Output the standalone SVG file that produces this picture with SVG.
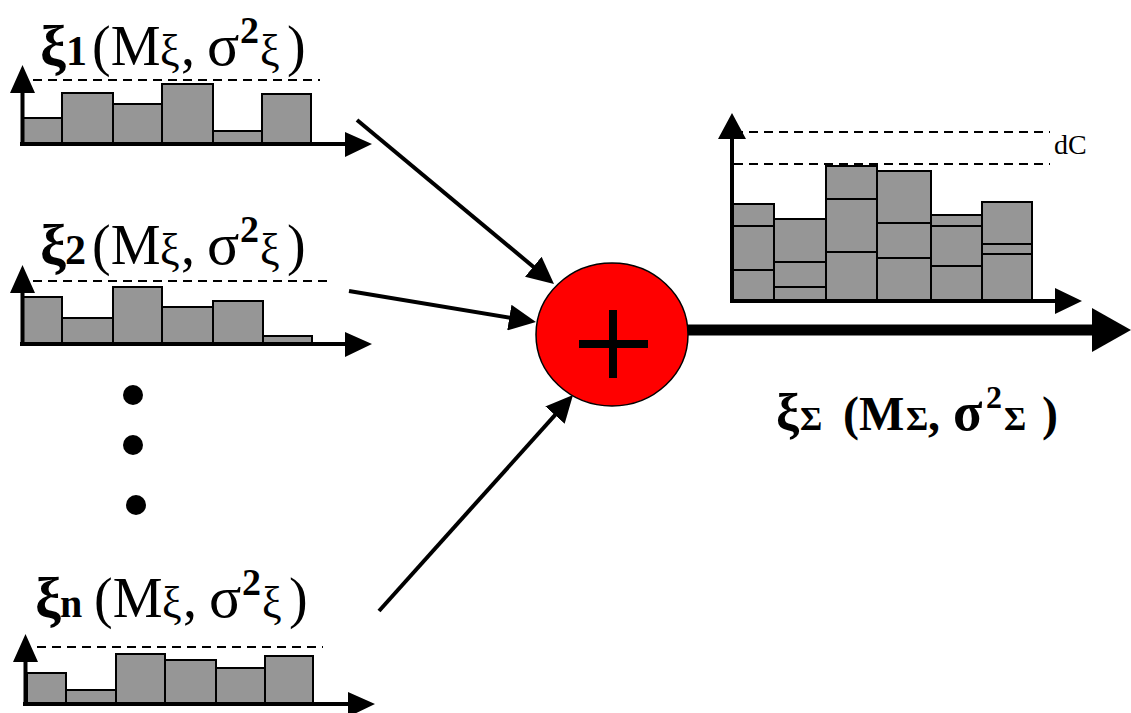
<svg xmlns="http://www.w3.org/2000/svg" width="1131" height="713" viewBox="0 0 1131 713">
<style>
.bar{fill:#969696;stroke:#000;stroke-width:2}
.axis{stroke:#000;stroke-width:4;fill:none}
.head{fill:#000;stroke:none}
.dash{stroke:#000;stroke-width:2;stroke-dasharray:9 6;fill:none}
.sep{stroke:#000;stroke-width:2}
.conn{stroke:#000;stroke-width:4;fill:none}
.lbl{font-family:"Liberation Serif","Times New Roman",serif;fill:#000}
.b{font-weight:bold}
</style>
<defs>
<marker id="ah" markerUnits="userSpaceOnUse" markerWidth="28" markerHeight="26" refX="2" refY="13" orient="auto">
<path d="M0,0 L27,13 L0,26 z" fill="#000"/>
</marker>
</defs>
<rect width="1131" height="713" fill="#fff"/>

<g id="hist1">
<line class="dash" x1="33" y1="80" x2="320" y2="80"/>
<rect class="bar" x="23" y="118" width="39" height="25"/>
<rect class="bar" x="62" y="93" width="51" height="50"/>
<rect class="bar" x="113" y="104" width="49" height="39"/>
<rect class="bar" x="162" y="84" width="51" height="59"/>
<rect class="bar" x="213" y="131" width="49" height="12"/>
<rect class="bar" x="262" y="94" width="49" height="49"/>
<path class="axis" d="M22.5,144 V92 M20,144 H346"/>
<path class="head" d="M10,93 L35,93 L22.5,65 z M345,132 L372,144 L345,157 z"/>
<text class="lbl" y="65" font-size="56"><tspan x="40" class="b" font-size="58">ξ</tspan><tspan x="66" class="b" font-size="42">1</tspan><tspan x="92">(M</tspan><tspan x="160" font-size="44">ξ</tspan><tspan x="181">,</tspan><tspan x="207" font-size="60">σ</tspan><tspan x="240" y="43" class="b" font-size="38">2</tspan><tspan x="260" y="65" font-size="44">ξ</tspan><tspan x="287">)</tspan></text>
</g>

<g id="hist2">
<line class="dash" x1="33" y1="281" x2="330" y2="281"/>
<rect class="bar" x="23" y="297" width="39" height="46"/>
<rect class="bar" x="62" y="318" width="51" height="25"/>
<rect class="bar" x="113" y="287" width="49" height="56"/>
<rect class="bar" x="162" y="307" width="51" height="36"/>
<rect class="bar" x="213" y="301" width="50" height="42"/>
<rect class="bar" x="263" y="336" width="49" height="7"/>
<path class="axis" d="M22.5,344 V292 M20,344 H346"/>
<path class="head" d="M10,293 L35,293 L22.5,265 z M345,332 L372,344 L345,357 z"/>
<text class="lbl" y="264" font-size="56"><tspan x="40" class="b" font-size="58">ξ</tspan><tspan x="65" class="b" font-size="42">2</tspan><tspan x="92">(M</tspan><tspan x="160" font-size="44">ξ</tspan><tspan x="181">,</tspan><tspan x="207" font-size="60">σ</tspan><tspan x="240" y="242" class="b" font-size="38">2</tspan><tspan x="260" y="264" font-size="44">ξ</tspan><tspan x="287">)</tspan></text>
</g>

<g id="dots">
<circle cx="133" cy="395" r="10" fill="#000"/>
<circle cx="133" cy="445" r="10" fill="#000"/>
<circle cx="136" cy="505" r="10" fill="#000"/>
</g>

<g id="histn">
<line class="dash" x1="37" y1="647" x2="323" y2="647"/>
<rect class="bar" x="27" y="673" width="39" height="30"/>
<rect class="bar" x="66" y="690" width="50" height="13"/>
<rect class="bar" x="116" y="654" width="49" height="49"/>
<rect class="bar" x="165" y="660" width="51" height="43"/>
<rect class="bar" x="216" y="668" width="49" height="35"/>
<rect class="bar" x="265" y="656" width="48" height="47"/>
<path class="axis" d="M25.5,704 V661 M23,704 H349"/>
<path class="head" d="M13,662 L38,662 L25.5,634 z M348,692 L375,704 L348,717 z"/>
<text class="lbl" y="617" font-size="56"><tspan x="35" class="b" font-size="58">ξ</tspan><tspan x="60" class="b" font-size="40">n</tspan><tspan x="94">(M</tspan><tspan x="162" font-size="44">ξ</tspan><tspan x="183">,</tspan><tspan x="209" font-size="60">σ</tspan><tspan x="242" y="595" class="b" font-size="38">2</tspan><tspan x="262" y="617" font-size="44">ξ</tspan><tspan x="289">)</tspan></text>
</g>

<g id="sum">
<ellipse cx="612" cy="334.5" rx="76" ry="71.5" fill="#ff0000" stroke="#000" stroke-width="1.5"/>
<path d="M613,310 V378 M579,344 H648" stroke="#000" stroke-width="8" fill="none"/>
</g>

<g id="result">
<line class="dash" x1="734" y1="132" x2="1050" y2="132"/>
<line class="dash" x1="734" y1="164" x2="1050" y2="164"/>
<text class="lbl" x="1054" y="154" font-size="28">dC</text>
<rect class="bar" x="733" y="204" width="41" height="96"/>
<rect class="bar" x="774" y="219" width="52" height="81"/>
<rect class="bar" x="826" y="166" width="51" height="134"/>
<rect class="bar" x="877" y="171" width="54" height="129"/>
<rect class="bar" x="931" y="215" width="51" height="85"/>
<rect class="bar" x="982" y="202" width="50" height="98"/>
<path class="sep" d="M733,226 H774 M733,270 H774 M774,262 H826 M774,287 H826 M826,199 H877 M826,252 H877 M877,223 H931 M877,258 H931 M931,226 H982 M931,266 H982 M982,244 H1032 M982,254 H1032"/>
<path class="axis" d="M732,301 V138 M730,301 H1057"/>
<path class="head" d="M718,139 L746,139 L732,113 z M1055,288 L1082,301 L1055,314 z"/>
<text class="lbl b" y="430" font-size="48"><tspan x="776" font-size="52">ξ</tspan><tspan x="800" font-size="34">Σ</tspan><tspan x="843">(M</tspan><tspan x="906" font-size="34">Σ</tspan><tspan x="928">,</tspan><tspan x="953" font-size="54">σ</tspan><tspan x="986" y="408" font-size="32">2</tspan><tspan x="1004" y="430" font-size="34">Σ</tspan><tspan x="1042">)</tspan></text>
</g>

<g id="connectors">
<line class="conn" x1="357" y1="120" x2="534.8" y2="268" marker-end="url(#ah)"/>
<line class="conn" x1="349" y1="291" x2="511.3" y2="317.9" marker-end="url(#ah)"/>
<line class="conn" x1="379" y1="611" x2="556.3" y2="413.6" marker-end="url(#ah)"/>
<line x1="688" y1="330" x2="1093" y2="330" stroke="#000" stroke-width="11"/>
<path class="head" d="M1092,308 L1131,330 L1092,352 z"/>
</g>
</svg>
